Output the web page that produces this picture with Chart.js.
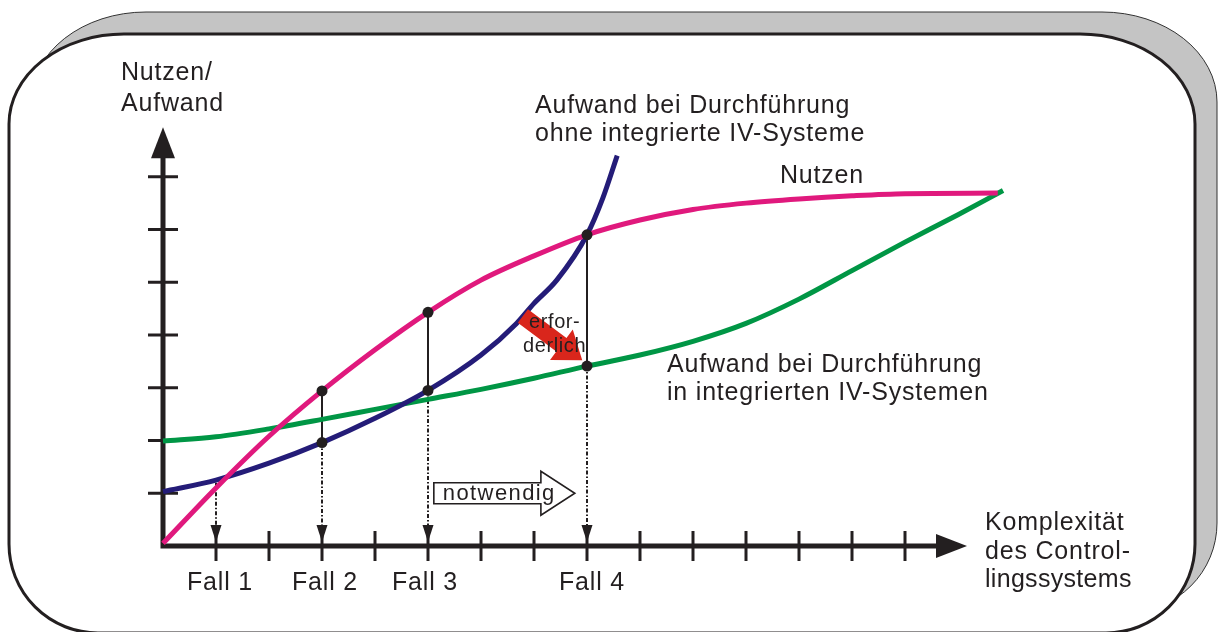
<!DOCTYPE html>
<html>
<head>
<meta charset="utf-8">
<script src="https://cdn.jsdelivr.net/npm/chart.js@4"></script>
<style>
  html, body { margin: 0; padding: 0; background: #fff; }
  canvas { display: block; }
</style>
</head>
<body>
<canvas id="chart" width="1219" height="632"></canvas>
<script>
// curves (x = Komplexität in tick units, y = Nutzen/Aufwand in tick units)
const nutzenX = [0, 1, 2, 3, 4, 5, 6, 7, 8, 9, 10, 11, 12, 13, 14, 15.75];
const nutzenY = [0.05, 1.1, 2.08, 2.94, 3.72, 4.43, 5.04, 5.5, 5.9, 6.18, 6.38, 6.5, 6.58, 6.64, 6.68, 6.69];

const ohneX = [0, 1, 2, 3, 4, 5, 6, 6.67, 7, 7.43, 8, 8.3, 8.57];
const ohneY = [1.03, 1.25, 1.57, 1.96, 2.42, 2.95, 3.62, 4.22, 4.6, 5.04, 5.9, 6.6, 7.4];

const integX = [0, 1, 2, 3, 4, 5, 6, 7, 8, 9, 10, 11, 12, 13, 14, 15, 15.85];
const integY = [1.99, 2.07, 2.22, 2.4, 2.59, 2.78, 2.97, 3.18, 3.41, 3.62, 3.88, 4.22, 4.68, 5.22, 5.76, 6.28, 6.74];

// cases on the x axis
const caseLabels = ["Fall 1", "Fall 2", "Fall 3", "Fall 4"];
const caseX = [1, 3, 5, 8];
const caseTop = [1.2, 2.94, 4.43, 5.9];
const caseBottom = [1.2, 1.96, 2.95, 3.41];

const xTicks = [1, 2, 3, 4, 5, 6, 7, 8, 9, 10, 11, 12, 13, 14];
const yTicks = [1, 2, 3, 4, 5, 6, 7];

const FONT = '"Liberation Sans", Arial, sans-serif';
const INK = "#231f20";

const toPts = (xs, ys) => xs.map((x, i) => ({ x: x, y: ys[i] }));

const dots = [];
caseX.forEach((x, i) => {
  if (caseTop[i] !== caseBottom[i]) {
    dots.push({ x: x, y: caseTop[i] });
    dots.push({ x: x, y: caseBottom[i] });
  }
});

function tri(ctx, tx, ty, dx, dy, len, half) {
  const px = -dy, py = dx;
  ctx.beginPath();
  ctx.moveTo(tx, ty);
  ctx.lineTo(tx - dx * len + px * half, ty - dy * len + py * half);
  ctx.lineTo(tx - dx * len - px * half, ty - dy * len - py * half);
  ctx.closePath();
  ctx.fill();
}

function framePath(ctx, x0, y0, x1, y1, rxT, ryT, rB) {
  ctx.beginPath();
  ctx.moveTo(x0 + rxT, y0);
  ctx.lineTo(x1 - rxT, y0);
  ctx.ellipse(x1 - rxT, y0 + ryT, rxT, ryT, 0, -Math.PI / 2, 0);
  ctx.lineTo(x1, y1 - rB);
  ctx.ellipse(x1 - rB, y1 - rB, rB, rB, 0, 0, Math.PI / 2);
  ctx.lineTo(x0 + rB, y1);
  ctx.ellipse(x0 + rB, y1 - rB, rB, rB, 0, Math.PI / 2, Math.PI);
  ctx.lineTo(x0, y0 + ryT);
  ctx.ellipse(x0 + rxT, y0 + ryT, rxT, ryT, 0, Math.PI, Math.PI * 1.5);
  ctx.closePath();
}

function label(ctx, str, x, y, size, spacing) {
  ctx.save();
  ctx.font = size + "px " + FONT;
  ctx.fillStyle = INK;
  ctx.textAlign = "left";
  ctx.textBaseline = "alphabetic";
  ctx.letterSpacing = (spacing === undefined ? 0.8 : spacing) + "px";
  ctx.fillText(str, x, y);
  ctx.restore();
}

const diagram = {
  id: "diagram",
  beforeDraw(chart) {
    const ctx = chart.ctx;
    ctx.save();
    ctx.fillStyle = "#fff";
    ctx.fillRect(0, 0, chart.width, chart.height);
    // shadow
    framePath(ctx, 31, 12, 1217, 612, 115, 90, 89);
    ctx.fillStyle = "#c4c4c4";
    ctx.fill();
    ctx.lineWidth = 1;
    ctx.strokeStyle = "#333";
    ctx.stroke();
    // frame
    framePath(ctx, 9, 34, 1195, 633, 115, 90, 89);
    ctx.fillStyle = "#fff";
    ctx.fill();
    ctx.lineWidth = 3;
    ctx.strokeStyle = INK;
    ctx.stroke();
    ctx.restore();
  },
  beforeDatasetsDraw(chart) {
    const ctx = chart.ctx;
    const xs = chart.scales.x, ys = chart.scales.y;
    const ox = xs.getPixelForValue(0), oy = ys.getPixelForValue(0);
    ctx.save();
    ctx.strokeStyle = INK;
    ctx.fillStyle = INK;

    // ticks
    ctx.lineWidth = 3;
    xTicks.forEach(v => {
      const p = xs.getPixelForValue(v);
      ctx.beginPath(); ctx.moveTo(p, oy - 15); ctx.lineTo(p, oy + 15); ctx.stroke();
    });
    yTicks.forEach(v => {
      const p = ys.getPixelForValue(v);
      ctx.beginPath(); ctx.moveTo(ox - 15, p); ctx.lineTo(ox + 15, p); ctx.stroke();
    });

    // axes
    ctx.lineWidth = 5;
    ctx.lineCap = "square";
    const xTip = xs.getPixelForValue(15.17), yTip = ys.getPixelForValue(7.94);
    ctx.beginPath();
    ctx.moveTo(xTip - 28, oy); ctx.lineTo(ox, oy); ctx.lineTo(ox, yTip + 28);
    ctx.stroke();
    ctx.lineCap = "butt";
    tri(ctx, xTip, oy, 1, 0, 31, 12);
    tri(ctx, ox, yTip, 0, -1, 31, 12);

    // connectors between the curves
    ctx.lineWidth = 2;
    caseX.forEach((v, i) => {
      const p = xs.getPixelForValue(v);
      if (caseTop[i] !== caseBottom[i]) {
        ctx.beginPath();
        ctx.moveTo(p, ys.getPixelForValue(caseTop[i]));
        ctx.lineTo(p, ys.getPixelForValue(caseBottom[i]));
        ctx.stroke();
      }
      ctx.save();
      ctx.lineWidth = 2;
      ctx.setLineDash([4, 2, 1.5, 2]);
      ctx.beginPath();
      ctx.moveTo(p, ys.getPixelForValue(caseBottom[i]));
      ctx.lineTo(p, oy - 20);
      ctx.stroke();
      ctx.restore();
      tri(ctx, p, oy - 4, 0, 1, 17, 5.5);
    });

    // "notwendig" arrow
    const ax0 = xs.getPixelForValue(5.11), ax1 = xs.getPixelForValue(7.13);
    const atip = xs.getPixelForValue(7.77), ay = ys.getPixelForValue(1.0);
    ctx.beginPath();
    ctx.moveTo(ax0, ay - 10.5);
    ctx.lineTo(ax1, ay - 10.5);
    ctx.lineTo(ax1, ay - 22);
    ctx.lineTo(atip, ay);
    ctx.lineTo(ax1, ay + 22);
    ctx.lineTo(ax1, ay + 10.5);
    ctx.lineTo(ax0, ay + 10.5);
    ctx.closePath();
    ctx.fillStyle = "#fff";
    ctx.fill();
    ctx.lineWidth = 1.6;
    ctx.stroke();
    ctx.restore();
    label(ctx, "notwendig", ax0 + 9, ay + 7, 22, 1.4);
  },
  afterDatasetDraw(chart, args) {
    if (args.index !== 1) return;
    const ctx = chart.ctx;
    const xs = chart.scales.x, ys = chart.scales.y;
    // red "erforderlich" arrow
    const sx = xs.getPixelForValue(6.79), sy = ys.getPixelForValue(4.36);
    const tx = xs.getPixelForValue(7.91), ty = ys.getPixelForValue(3.52);
    const len = Math.hypot(tx - sx, ty - sy);
    const dx = (tx - sx) / len, dy = (ty - sy) / len;
    const px = -dy, py = dx;
    const hl = 26, sw = 8.5, hw = 19;
    const bx = tx - dx * hl, by = ty - dy * hl;
    ctx.save();
    ctx.fillStyle = "#d9261c";
    ctx.beginPath();
    ctx.moveTo(sx + px * sw, sy + py * sw);
    ctx.lineTo(bx + px * sw, by + py * sw);
    ctx.lineTo(bx + px * hw, by + py * hw);
    ctx.lineTo(tx, ty);
    ctx.lineTo(bx - px * hw, by - py * hw);
    ctx.lineTo(bx - px * sw, by - py * sw);
    ctx.lineTo(sx - px * sw, sy - py * sw);
    ctx.closePath();
    ctx.fill();
    ctx.restore();
    label(ctx, "erfor-", 529, 328, 20, 0.6);
    label(ctx, "derlich", 523, 352, 20, 0.6);
  },
  afterDraw(chart) {
    const ctx = chart.ctx;
    const xs = chart.scales.x;
    label(ctx, "Nutzen/", 121, 80, 25);
    label(ctx, "Aufwand", 121, 111, 25);
    label(ctx, "Aufwand bei Durchführung", 535, 113, 25);
    label(ctx, "ohne integrierte IV-Systeme", 535, 141, 25);
    label(ctx, "Nutzen", 780, 183, 25);
    label(ctx, "Aufwand bei Durchführung", 667, 372, 25);
    label(ctx, "in integrierten IV-Systemen", 667, 400, 25);
    label(ctx, "Komplexität", 985, 530, 25);
    label(ctx, "des Control-", 985, 559, 25);
    label(ctx, "lingssystems", 985, 587, 25, 0.3);
    const offs = [-29, -30, -36, -28];
    caseLabels.forEach((t, i) => {
      label(ctx, t, xs.getPixelForValue(caseX[i]) + offs[i], 590, 25);
    });
  }
};

const curve = (label, data, color) => ({
  label: label,
  data: data,
  showLine: true,
  borderColor: color,
  borderWidth: 5,
  pointRadius: 0,
  cubicInterpolationMode: "monotone",
  fill: false,
  clip: false
});

new Chart(document.getElementById("chart"), {
  type: "scatter",
  data: {
    datasets: [
      {
        label: "Fälle",
        data: dots,
        pointRadius: 5.5,
        pointBackgroundColor: INK,
        pointBorderWidth: 0,
        showLine: false,
        clip: false
      },
      curve("Nutzen", toPts(nutzenX, nutzenY), "#e0197d"),
      curve("Aufwand ohne integrierte IV-Systeme", toPts(ohneX, ohneY), "#241c78"),
      curve("Aufwand in integrierten IV-Systemen", toPts(integX, integY), "#009645")
    ]
  },
  options: {
    responsive: false,
    devicePixelRatio: 1,
    animation: false,
    events: [],
    layout: { padding: { left: 163, right: 208, top: 124, bottom: 86 } },
    scales: {
      x: { type: "linear", min: 0, max: 16, display: false },
      y: { type: "linear", min: 0, max: 8, display: false }
    },
    plugins: { legend: { display: false }, tooltip: { enabled: false } }
  },
  plugins: [diagram]
});
</script>
</body>
</html>
